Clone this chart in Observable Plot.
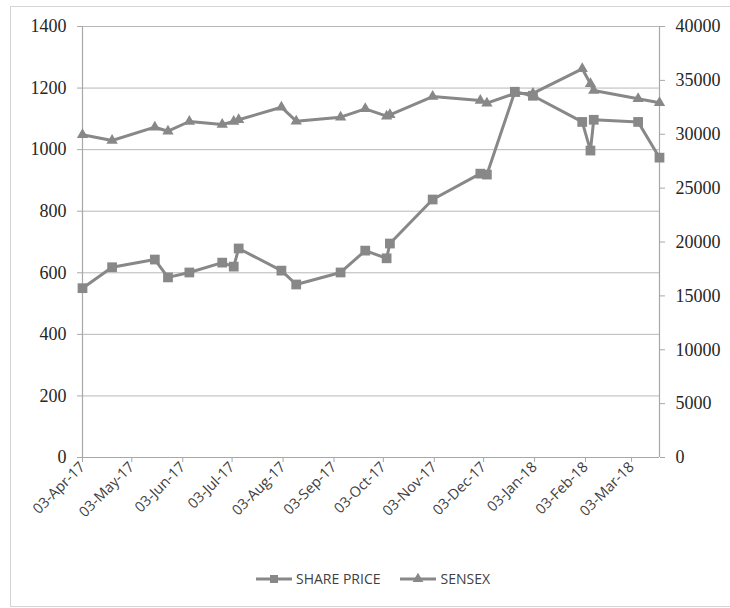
<!DOCTYPE html>
<html>
<head>
<meta charset="utf-8">
<script src="https://cdn.jsdelivr.net/npm/d3@7"></script>
<script src="https://cdn.jsdelivr.net/npm/@observablehq/plot@0.6"></script>
<style>
  html, body { margin: 0; padding: 0; background: #fff; overflow: hidden; }
  #wrap { position: relative; width: 730px; height: 608px; overflow: hidden; }
  #frame { position: absolute; left: 10px; top: 6px; width: 760px; height: 599px; border: 1px solid #d4d4d4; pointer-events: none; }
  #chart { position: absolute; left: 0; top: 0; }
  #legend { position: absolute; left: 256px; top: 569px; display: flex; align-items: center; font-family: "Open Sans", sans-serif; font-size: 14px; color: #404040; }
  .item { display: flex; align-items: center; margin-right: 20px; }
  .item svg { margin-right: 4px; }
</style>
</head>
<body>
<div id="wrap">
  <div id="chart"></div>
  <div id="frame"></div>
  <div id="legend"></div>
</div>
<script>
// ---- data ----
const dates = ["2017-04-03","2017-04-21","2017-05-17","2017-05-25","2017-06-07","2017-06-27","2017-07-04","2017-07-07","2017-08-02","2017-08-11","2017-09-07","2017-09-22","2017-10-05","2017-10-07","2017-11-02","2017-12-01","2017-12-05","2017-12-22","2018-01-02","2018-02-01","2018-02-06","2018-02-08","2018-03-07","2018-03-20"];
const sharePrice = [550,618,643,585,601,633,620,679,607,562,601,672,647,695,838,922,919,1188,1175,1090,997,1097,1090,974];
const sensex = [29950,29420,30655,30283,31183,30905,31183,31341,32510,31211,31582,32362,31675,31800,33503,33132,32882,33780,33790,36075,34682,34060,33290,32919];
const seriesNames = ["SHARE PRICE", "SENSEX"];
const leftTicks = [0,200,400,600,800,1000,1200,1400];
const rightTicks = [0,5000,10000,15000,20000,25000,30000,35000,40000];
const xTickDates = ["2017-04-03","2017-05-03","2017-06-03","2017-07-03","2017-08-03","2017-09-03","2017-10-03","2017-11-03","2017-12-03","2018-01-03","2018-02-03","2018-03-03"];
const xDomain = ["2017-04-03","2018-03-20"];

const parse = d3.utcParse("%Y-%m-%d");
const k = 1400 / 40000; // right-axis units -> left-axis units
const rows = dates.map((d, i) => ({date: parse(d), price: sharePrice[i], sensex: sensex[i] * k}));
const gray = "#888888";
const serif = "'Liberation Serif', 'DejaVu Serif', serif";

const chart = Plot.plot({
  width: 730,
  height: 545,
  marginLeft: 82,
  marginRight: 71,
  marginTop: 26,
  marginBottom: 88,
  style: {fontFamily: "'Open Sans', sans-serif", background: "transparent"},
  x: {type: "utc", domain: xDomain.map(parse)},
  y: {domain: [0, 1400]},
  marks: [
    Plot.gridY(leftTicks, {stroke: "#b8b8b8", strokeOpacity: 1, strokeWidth: 1}),
    Plot.ruleX([parse(xDomain[0]), parse(xDomain[1])], {stroke: "#a8a8a8", strokeWidth: 1.2}),
    Plot.ruleY([0], {stroke: "#a8a8a8", strokeWidth: 1.2}),
    Plot.axisY(leftTicks, {anchor: "left", tickSize: 5, tickPadding: 11, stroke: "#a8a8a8", tickFormat: d => String(d), fontFamily: serif, fontSize: 18, fill: "#262626", label: null}),
    Plot.axisY(rightTicks.map(v => v * k), {anchor: "right", tickSize: 5, tickPadding: 11, stroke: "#a8a8a8", tickFormat: v => String(Math.round(v / k)), fontFamily: serif, fontSize: 18, fill: "#262626", label: null}),
    Plot.axisX(xTickDates.map(parse), {tickSize: 5, tickPadding: 2, stroke: "#a8a8a8", tickRotate: -45, tickFormat: d3.utcFormat("%d-%b-%y"), fontSize: 14.5, fill: "#404040", label: null}),
    Plot.line(rows, {x: "date", y: "price", stroke: gray, strokeWidth: 3}),
    Plot.line(rows, {x: "date", y: "sensex", stroke: gray, strokeWidth: 3}),
    Plot.dot(rows, {x: "date", y: "price", symbol: "square", r: 5.5, fill: gray, stroke: null}),
    Plot.dot(rows, {x: "date", y: "sensex", symbol: "triangle", r: 4.2, fill: gray, stroke: null})
  ]
});
document.getElementById("chart").appendChild(chart);

// legend
const legend = document.getElementById("legend");
const symbols = ["square", "triangle"];
seriesNames.forEach((name, i) => {
  const item = document.createElement("div");
  item.className = "item";
  const ns = "http://www.w3.org/2000/svg";
  const s = document.createElementNS(ns, "svg");
  s.setAttribute("width", 36); s.setAttribute("height", 14);
  const ln = document.createElementNS(ns, "line");
  ln.setAttribute("x1", 0); ln.setAttribute("x2", 36); ln.setAttribute("y1", 7); ln.setAttribute("y2", 7);
  ln.setAttribute("stroke", gray); ln.setAttribute("stroke-width", 3);
  s.appendChild(ln);
  const p = document.createElementNS(ns, "path");
  const sym = symbols[i] === "square" ? d3.symbolSquare : d3.symbolTriangle;
  p.setAttribute("d", d3.symbol(sym, symbols[i] === "square" ? 64 : 50)());
  p.setAttribute("transform", "translate(18,7)");
  p.setAttribute("fill", gray);
  s.appendChild(p);
  item.appendChild(s);
  const t = document.createElement("span");
  t.textContent = name;
  item.appendChild(t);
  legend.appendChild(item);
});
</script>
</body>
</html>
